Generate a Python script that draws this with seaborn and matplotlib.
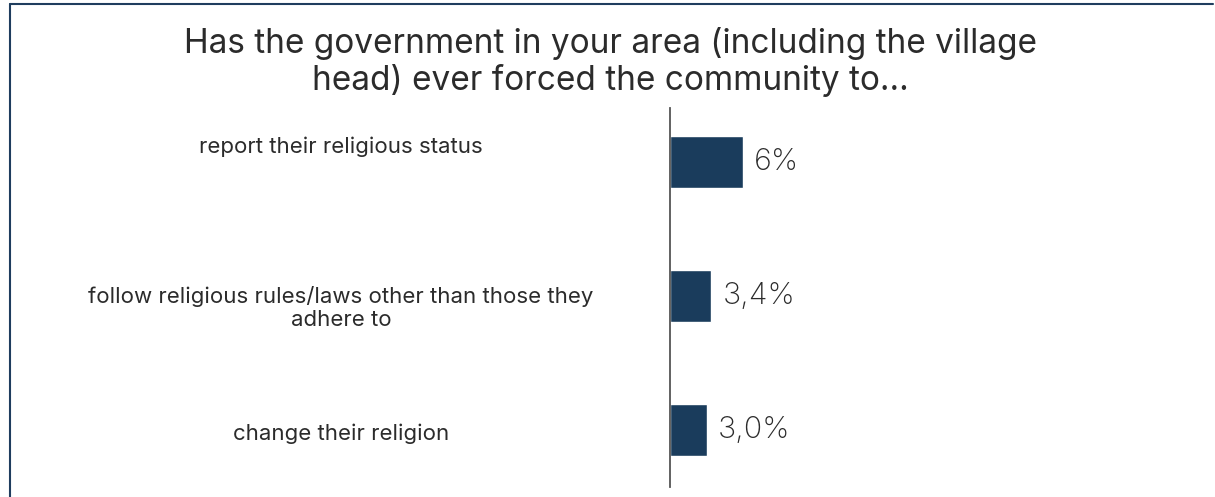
import matplotlib
matplotlib.use("Agg")
import matplotlib.pyplot as plt
from matplotlib.lines import Line2D
from matplotlib.transforms import blended_transform_factory, ScaledTranslation
import seaborn as sns
import pandas as pd

# Survey responses
categories = [
    "report their religious status",
    "follow religious rules/laws other than those they\nadhere to",
    "change their religion",
]
shares = [6.0, 3.4, 3.0]
value_labels = ["6%", "3,4%", "3,0%"]
title = "Has the government in your area (including the village\nhead) ever forced the community to..."

sns.set_theme(style="white")
plt.rcParams["font.family"] = ["Inter", "DejaVu Sans"]

bar_color = "#1a3c5c"
text_color = "#2b2b2b"
frame_color = "#1f3d5e"

df = pd.DataFrame({"category": categories, "share": shares})

W, H = 1215, 497
fig = plt.figure(figsize=(W / 100, H / 100), dpi=100)
ax = fig.add_axes([670 / W, 1 - 487 / H, 540 / W, (487 - 108) / H])

sns.barplot(data=df, x="share", y="category", orient="h", color=bar_color,
            width=0.39, saturation=1, ax=ax)

ax.set_xlim(0, 44.3)
ax.set_ylim(2.425, -0.40)
ax.set_xlabel("")
ax.set_ylabel("")
ax.set_xticks([])
ax.set_yticks(range(len(categories)))
ax.set_yticklabels([])
ax.tick_params(axis="y", length=0)
for s in ["top", "right", "bottom"]:
    ax.spines[s].set_visible(False)
ax.spines["left"].set_color("#555555")
ax.spines["left"].set_linewidth(1.3)

# Category labels, centred in the left-hand column
label_dy_px = [15, -12, -4]
blend = blended_transform_factory(fig.transFigure, ax.transData)
for i, (cat, dy) in enumerate(zip(categories, label_dy_px)):
    tr = blend + ScaledTranslation(0, dy / 100, fig.dpi_scale_trans)
    ax.text(341 / W, i, cat, transform=tr, ha="center", va="center",
            fontsize=16, color=text_color, linespacing=1.2)

for i, (v, lab) in enumerate(zip(shares, value_labels)):
    ax.annotate(lab, xy=(v, i), xytext=(8, 0), textcoords="offset points",
                va="center", ha="left", fontsize=22, color=text_color,
                fontweight="light")

fig.text(610 / W, 1 - 62 / H, title, ha="center", va="center", fontsize=24,
         color=text_color, linespacing=1.12)

# Frame lines along the left and top edges
fig.add_artist(Line2D([9.5 / W, 9.5 / W], [0, 1 - 4 / H], transform=fig.transFigure,
                      color=frame_color, lw=1.5))
fig.add_artist(Line2D([9.5 / W, 1213 / W], [1 - 4 / H, 1 - 4 / H], transform=fig.transFigure,
                      color=frame_color, lw=1.5))

fig.savefig("out.png", dpi=100, facecolor="white")
